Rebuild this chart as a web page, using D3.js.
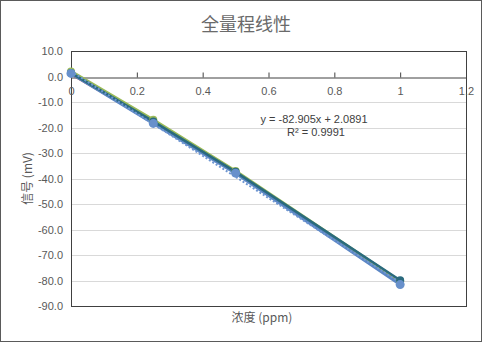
<!DOCTYPE html>
<html>
<head>
<meta charset="utf-8">
<script src="https://cdn.jsdelivr.net/npm/d3@7"></script>
<style>
  html, body { margin: 0; padding: 0; background: #fff; }
  svg { display: block; }
  text { font-family: "Liberation Sans", "Noto Sans", sans-serif; }
  .cjk { font-family: "Noto Sans CJK SC", "Noto Sans", sans-serif; }
</style>
</head>
<body>
<svg id="chart" width="482" height="342"></svg>
<script>
// Concentration (ppm) of each standard
const concentrations = [0, 0.25, 0.5, 1];

// Measured signal (mV) for each run
const runRed   = [0.8, -17.9, -37.6, -80.6];
const runGreen = [2.0, -17.0, -37.1, -80.3];
const runTeal  = [1.4, -17.6, -37.4, -79.9];
const runBlue  = [1.2, -18.4, -37.9, -81.6];

// Linear trendline of the blue run
const trendSlope = -82.905;
const trendIntercept = 2.0891;
const rSquared = 0.9991;

// Axis ticks
const xTicks = [0, 0.2, 0.4, 0.6, 0.8, 1, 1.2];
const xTickLabels = ["0", "0.2", "0.4", "0.6", "0.8", "1", "1.2"];
const yTicks = [10, 0, -10, -20, -30, -40, -50, -60, -70, -80, -90];
const yTickLabels = ["10.0", "0.0", "-10.0", "-20.0", "-30.0", "-40.0", "-50.0", "-60.0", "-70.0", "-80.0", "-90.0"];

const titleText = "全量程线性";
const xTitle = "浓度 (ppm)";
const yTitle = "信号 (mV)";

const svg = d3.select("#chart");
const W = 482, H = 342;
const plot = { left: 71, right: 466, top: 51, bottom: 306 };

const x = d3.scaleLinear().domain([0, 1.2]).range([plot.left, plot.right]);
const y = d3.scaleLinear().domain([-90, 10]).range([plot.bottom, plot.top]);

// outer chart frame
svg.append("rect")
  .attr("x", 0.5).attr("y", 0.5).attr("width", W - 1).attr("height", H - 1)
  .attr("fill", "#fff").attr("stroke", "#5a5a5a").attr("stroke-width", 1);

// title
svg.append("text").attr("class", "cjk")
  .attr("x", 246).attr("y", 31)
  .attr("text-anchor", "middle")
  .attr("font-size", 18).attr("fill", "#6a6a6a")
  .text(titleText);

// horizontal gridlines
svg.append("g").selectAll("line")
  .data(yTicks.filter(v => v < 0 && v > -90))
  .join("line")
  .attr("x1", plot.left).attr("x2", plot.right)
  .attr("y1", d => Math.round(y(d)) + 0.5).attr("y2", d => Math.round(y(d)) + 0.5)
  .attr("stroke", "#d9d9d9").attr("stroke-width", 1);

// plot area frame
svg.append("rect")
  .attr("x", plot.left + 0.5).attr("y", plot.top + 0.5)
  .attr("width", plot.right - plot.left).attr("height", plot.bottom - plot.top)
  .attr("fill", "none").attr("stroke", "#404040").attr("stroke-width", 1);

// y axis labels
const yAxis = d3.axisLeft(y)
  .tickValues(yTicks)
  .tickFormat((d, i) => yTickLabels[i])
  .tickSize(0).tickPadding(8);
const gy = svg.append("g").attr("transform", `translate(${plot.left},0)`).call(yAxis);
gy.select(".domain").remove();
gy.selectAll("text").attr("font-size", 11).attr("fill", "#595959")
  .attr("font-family", "Liberation Sans, sans-serif");

// x axis along y = 0, ticks pointing up, labels below
const y0 = Math.round(y(0)) + 0.5;
const xAxis = d3.axisBottom(x)
  .tickValues(xTicks)
  .tickFormat((d, i) => xTickLabels[i])
  .tickSizeInner(-5).tickSizeOuter(0).tickPadding(10);
const gx = svg.append("g").attr("transform", `translate(0,${y0})`).call(xAxis);
gx.select(".domain").attr("stroke", "#404040");
gx.selectAll(".tick line").attr("stroke", "#404040");
gx.selectAll("text").attr("font-size", 11).attr("fill", "#595959")
  .attr("font-family", "Liberation Sans, sans-serif");

// axis titles
svg.append("text").attr("class", "cjk")
  .attr("x", 262).attr("y", 322)
  .attr("text-anchor", "middle").attr("font-size", 12).attr("fill", "#595959")
  .text(xTitle);
svg.append("text").attr("class", "cjk")
  .attr("transform", `translate(32,${(plot.top + plot.bottom) / 2}) rotate(-90)`)
  .attr("text-anchor", "middle").attr("font-size", 12).attr("fill", "#595959")
  .text(yTitle);

// series lines
const line = d3.line().x(d => x(d[0])).y(d => y(d[1]));
const pts = vals => concentrations.map((c, i) => [c, vals[i]]);

const series = [
  { vals: runRed,   color: "#c0504d", width: 2 },
  { vals: runGreen, color: "#9bbb59", width: 3 },
  { vals: runBlue,  color: "#5b86c4", width: 3 },
  { vals: runTeal,  color: "#2a6a7e", width: 2.5 }
];
series.forEach(s => {
  svg.append("path")
    .datum(pts(s.vals))
    .attr("d", line)
    .attr("fill", "none")
    .attr("stroke", s.color)
    .attr("stroke-width", s.width)
    .attr("stroke-linejoin", "round");
});

// trendline (dotted)
const trendPts = [0, 1].map(c => [c, trendSlope * c + trendIntercept]);
svg.append("path")
  .datum(trendPts)
  .attr("d", line)
  .attr("fill", "none")
  .attr("stroke", "#6f97d2")
  .attr("stroke-width", 2)
  .attr("stroke-dasharray", "2,2");

// markers
svg.append("g").selectAll("circle")
  .data(pts(runGreen)).join("circle")
  .attr("cx", d => x(d[0])).attr("cy", d => y(d[1])).attr("r", 4)
  .attr("fill", "#9bbb59");
svg.append("g").selectAll("circle")
  .data(pts(runTeal)).join("circle")
  .attr("cx", d => x(d[0])).attr("cy", d => y(d[1])).attr("r", 4)
  .attr("fill", "#2a6a7e");
svg.append("g").selectAll("circle")
  .data(pts(runBlue)).join("circle")
  .attr("cx", d => x(d[0])).attr("cy", d => y(d[1])).attr("r", 4.5)
  .attr("fill", "#6890cb");

// trendline equation
const eq = svg.append("text")
  .attr("text-anchor", "middle").attr("font-size", 11).attr("fill", "#404040");
eq.append("tspan").attr("x", 314).attr("y", 123)
  .text(`y = ${trendSlope}x + ${trendIntercept}`);
eq.append("tspan").attr("x", 316).attr("y", 136)
  .text(`R² = ${rSquared}`);
</script>
</body>
</html>
